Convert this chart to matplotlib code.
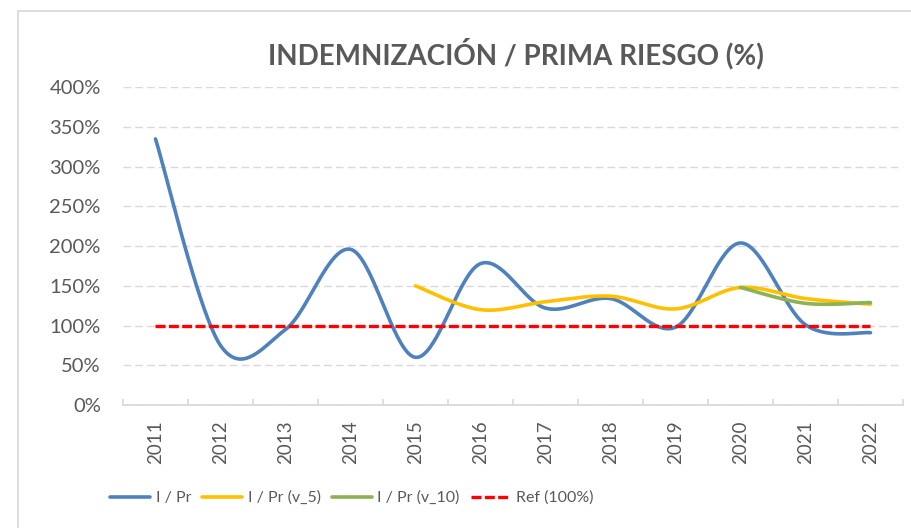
import numpy as np
import matplotlib
matplotlib.use("Agg")
import matplotlib.pyplot as plt
from matplotlib.patches import Rectangle
from matplotlib.ticker import FuncFormatter, FixedLocator

years = ["2011", "2012", "2013", "2014", "2015", "2016", "2017", "2018",
         "2019", "2020", "2021", "2022"]
i_pr = [335, 75, 95, 196, 60, 178, 122, 134, 98, 204, 101, 91]
i_pr_v5 = [None, None, None, None, 150, 120, 130, 137, 121, 148, 134, 127]
i_pr_v10 = [None, None, None, None, None, None, None, None, None, 148, 128, 129]
ref = [100] * 12

series_labels = ["I / Pr", "I / Pr (v_5)", "I / Pr (v_10)", "Ref (100%)"]

FONT = "Lato"
GREY = "#595959"
plt.rcParams["font.family"] = [FONT, "DejaVu Sans"]


def excel_smooth(xs, ys, n=40):
    pts = np.array([(x, y) for x, y in zip(xs, ys) if y is not None], float)
    if len(pts) < 2:
        return pts[:, 0], pts[:, 1]
    ext = np.vstack([pts[0], pts, pts[-1]])
    out = []
    t = np.linspace(0, 1, n)[:, None]
    for i in range(len(pts) - 1):
        p0 = ext[i + 1]
        p3 = ext[i + 2]
        c1 = p0 + (ext[i + 2] - ext[i]) / 6.0
        c2 = p3 - (ext[i + 3] - ext[i + 1]) / 6.0
        seg = ((1 - t) ** 3) * p0 + 3 * ((1 - t) ** 2) * t * c1 + 3 * (1 - t) * t ** 2 * c2 + t ** 3 * p3
        out.append(seg if i == 0 else seg[1:])
    arr = np.vstack(out)
    return arr[:, 0], arr[:, 1]


fig = plt.figure(figsize=(9.12, 5.28), dpi=100)
ax = fig.add_axes([123 / 912, 1 - 405 / 528, (903 - 123) / 912, (405 - 87.3) / 528])

x = np.arange(len(years))

# chart-area border (only left and top visible in the crop)
fig.patches.append(Rectangle((18 / 912, -0.2), 2, 1.2 - 11 / 528, transform=fig.transFigure,
                             fill=False, edgecolor="#D9D9D9", linewidth=1.3, zorder=0))

bx, by = excel_smooth(x, i_pr)
ax.plot(bx, by, color="#4F81BD", lw=2.6, solid_capstyle="round", label=series_labels[0], zorder=3)
yx, yy = excel_smooth(x, i_pr_v5)
ax.plot(yx, yy, color="#FFC000", lw=2.6, solid_capstyle="round", label=series_labels[1], zorder=4)
gx, gy = excel_smooth(x, i_pr_v10)
ax.plot(gx, gy, color="#8DB255", lw=2.6, solid_capstyle="round", label=series_labels[2], zorder=5)
ax.plot(x, ref, color="#FF0000", lw=2.4, dashes=(3.0, 1.0), label=series_labels[3], zorder=6)

ax.set_xlim(-0.5, len(years) - 0.5)
ax.set_ylim(0, 400)
ax.set_yticks(np.arange(0, 401, 50))
ax.yaxis.set_major_formatter(FuncFormatter(lambda v, p: f"{int(v)}%"))
ax.grid(axis="y", color="#D9D9D9", lw=1.0, dashes=(5.5, 3.0))
ax.set_axisbelow(True)

ax.set_xticks(x)
ax.set_xticklabels(years, rotation=90)
ax.xaxis.set_minor_locator(FixedLocator(np.arange(-0.5, len(years), 1.0)))
ax.tick_params(axis="x", which="major", length=0, pad=11, labelsize=13.5, labelcolor=GREY)
ax.tick_params(axis="x", which="minor", length=4, direction="in", color="#D9D9D9", width=1.2)
ax.tick_params(axis="y", length=0, pad=16, labelsize=14.5, labelcolor=GREY)

for s in ["left", "right", "top"]:
    ax.spines[s].set_visible(False)
ax.spines["bottom"].set_color("#D9D9D9")
ax.spines["bottom"].set_linewidth(1.3)

fig.text(516 / 912, 1 - 54 / 528, "INDEMNIZACIÓN / PRIMA RIESGO (%)", ha="center", va="center",
         fontsize=20, fontweight="bold", color=GREY)

leg = fig.legend(loc="center", bbox_to_anchor=(352 / 912, 1 - 498 / 528), ncol=4, frameon=False,
                 fontsize=11.5, handlelength=2.5, handletextpad=0.35, columnspacing=0.7)
for t in leg.get_texts():
    t.set_color(GREY)

fig.savefig("out.png", dpi=100)
